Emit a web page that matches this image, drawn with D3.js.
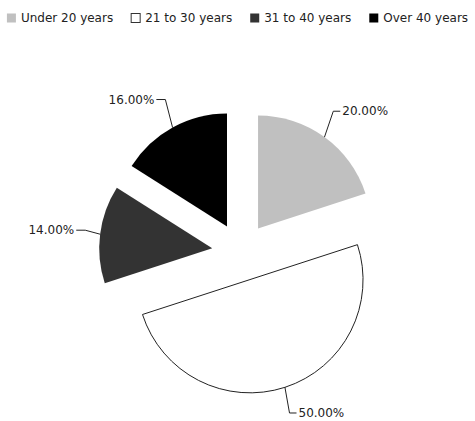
<!DOCTYPE html>
<html>
<head>
  <script src="https://d3js.org/d3.v7.min.js"></script>
  <style>
    body { margin: 0; background: #fff; }
    text { font-family: "DejaVu Sans", Verdana, sans-serif; font-size: 12px; fill: #222; }
    .leader { fill: none; stroke: #222; stroke-width: 1px; }
  </style>
</head>
<body>
  <svg width="475" height="421"></svg>

  <script>
    // data
    const categories = ["Under 20 years", "21 to 30 years", "31 to 40 years", "Over 40 years"];
    const values = [20, 50, 14, 16];
    const colors = ["#c0c0c0", "#ffffff", "#333333", "#000000"];

    const svg = d3.select("svg");
    const width = +svg.attr("width");
    const height = +svg.attr("height");

    const cx = 241, cy = 252;
    const radius = 113;
    const explode = 29;

    const data = categories.map((c, i) => ({ name: c, value: values[i], color: colors[i] }));
    const total = d3.sum(values);
    const fmt = d3.format(".2f");

    const pie = d3.pie().sort(null).value(d => d.value);
    const arcs = pie(data);
    const arc = d3.arc().innerRadius(0).outerRadius(radius);

    const g = svg.append("g").attr("transform", `translate(${cx},${cy})`);

    // slices, each pushed out along its mid angle
    const slice = g.selectAll(".slice")
      .data(arcs)
      .enter().append("g")
      .attr("class", "slice")
      .attr("transform", d => {
        const a = (d.startAngle + d.endAngle) / 2;
        return `translate(${Math.sin(a) * explode},${-Math.cos(a) * explode})`;
      });

    slice.append("path")
      .attr("d", arc)
      .attr("fill", d => d.data.color)
      .attr("stroke", d => d.data.color === "#ffffff" ? "#222" : "none")
      .attr("stroke-width", 1);

    // labels with connectors
    slice.each(function(d) {
      const a = (d.startAngle + d.endAngle) / 2;
      const s = Math.sin(a), c = -Math.cos(a);
      const ox = s * explode, oy = c * explode;
      const p0 = [s * radius, c * radius];
      // keep the label inside the bottom edge
      const maxY = height - 8 - cy - oy;
      const p1 = [p0[0] + s * 15, Math.min(p0[1] + c * 32, maxY)];
      const right = s >= 0;
      const p2 = [p1[0] + (right ? 7 : -9), p1[1]];
      const sel = d3.select(this);
      sel.append("path")
        .attr("class", "leader")
        .attr("d", d3.line()([p0, p1, p2]));
      sel.append("text")
        .attr("x", p2[0] + (right ? 2 : -2))
        .attr("y", p2[1])
        .attr("dy", "0.35em")
        .attr("text-anchor", right ? "start" : "end")
        .text(fmt(d.data.value / total * 100) + "%");
    });

    // legend
    const legend = svg.append("g").attr("class", "legend");
    const items = legend.selectAll(".item")
      .data(data)
      .enter().append("g")
      .attr("class", "item");

    items.append("rect")
      .attr("width", 9)
      .attr("height", 9)
      .attr("y", 13.5)
      .attr("fill", d => d.color)
      .attr("stroke", d => d.color === "#ffffff" ? "#333" : "none");

    items.append("text")
      .attr("x", 14)
      .attr("y", 18)
      .attr("dy", "0.35em")
      .text(d => d.name);

    const gap = 18;
    const widths = [];
    items.each(function() { widths.push(this.getBBox().width); });
    const legendWidth = d3.sum(widths) + gap * (widths.length - 1);
    let x = (width - legendWidth) / 2;
    items.attr("transform", (d, i) => {
      const t = `translate(${x},0)`;
      x += widths[i] + gap;
      return t;
    });
  </script>
</body>
</html>
